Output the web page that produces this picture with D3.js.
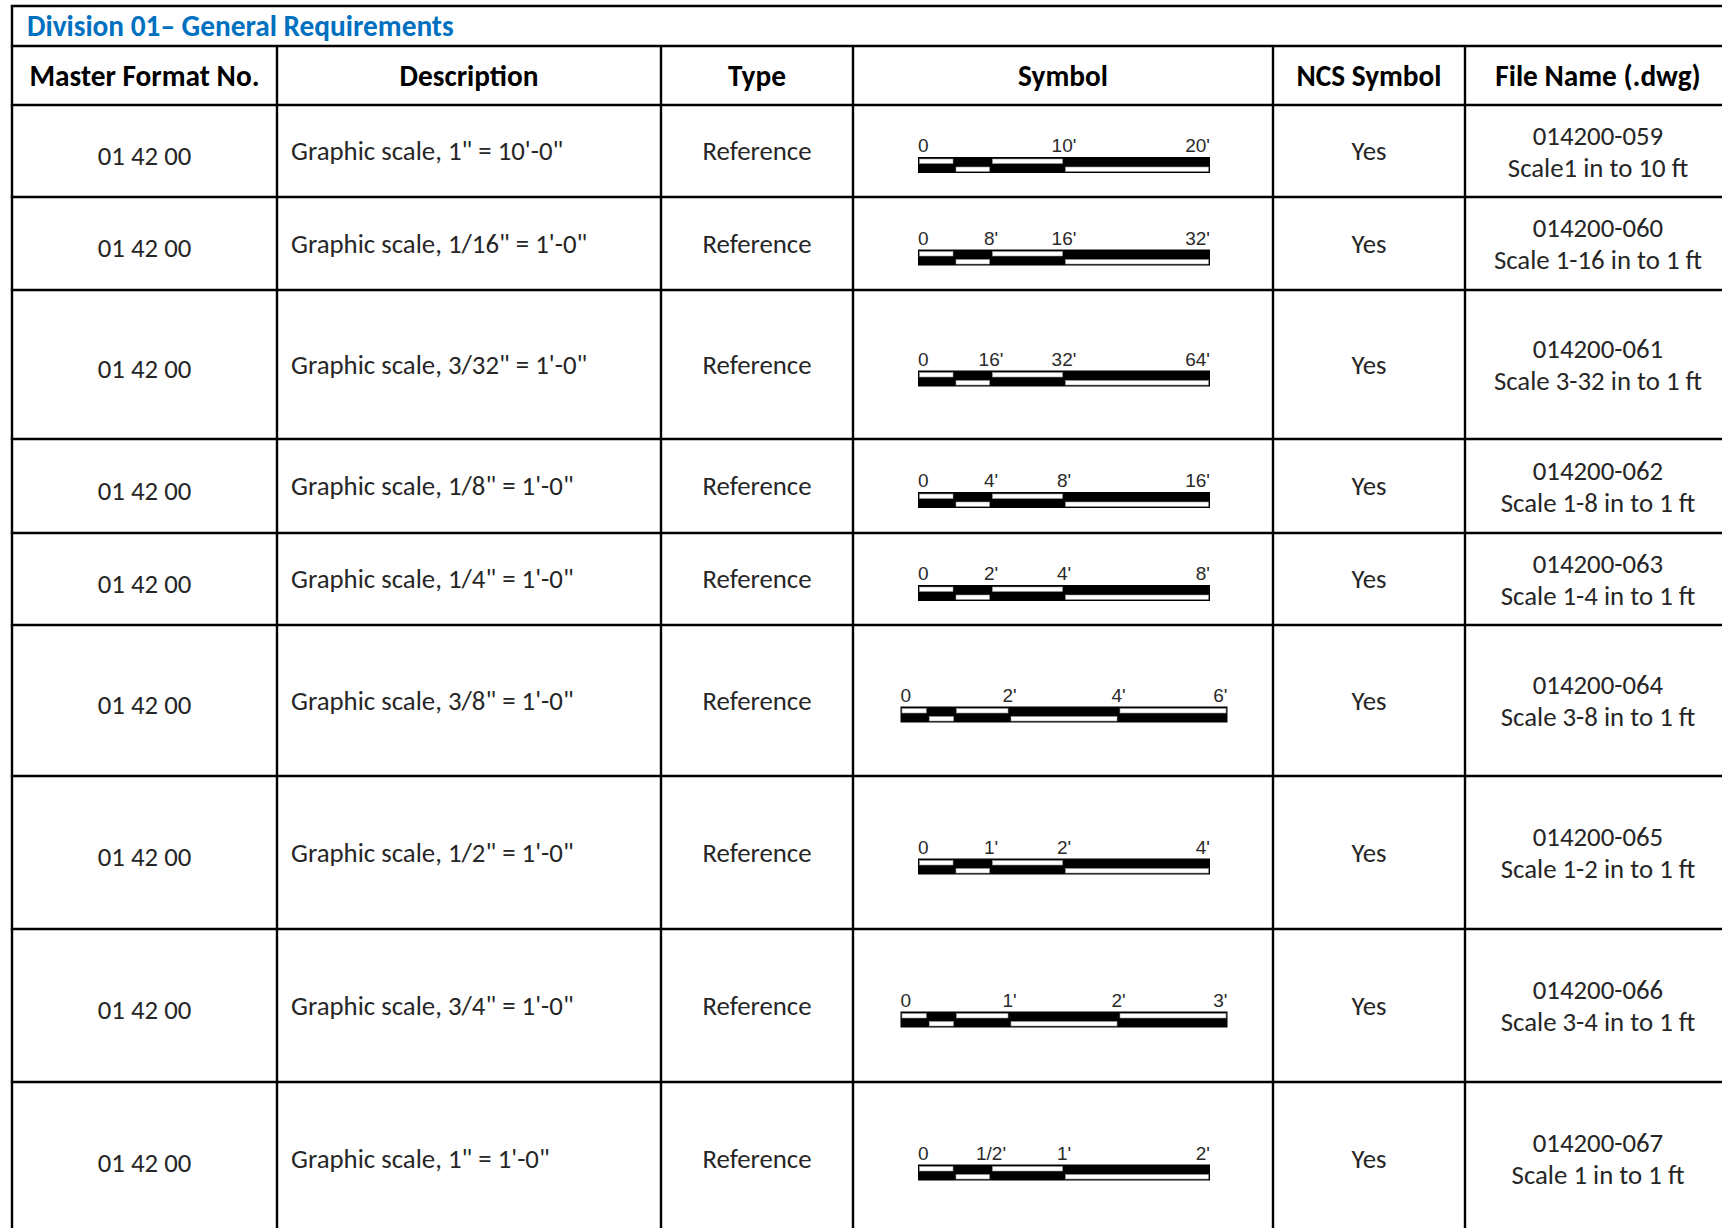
<!DOCTYPE html>
<html>
<head>
    <meta charset="utf-8">
    <title>Division 01 - General Requirements</title>
    <script type="text/javascript" src="https://d3js.org/d3.v7.min.js"></script>
    <style>
        body { margin: 0; background: #fff; }
        svg { display: block; }
        .cell { font-family: Carlito, Calibri, "Open Sans", sans-serif; font-size: 26.8px; fill: #262626; }
        .head { font-family: Carlito, Calibri, "Open Sans", sans-serif; font-size: 29.3px; font-weight: bold; fill: #000; }
        .title { font-family: Carlito, Calibri, "Open Sans", sans-serif; font-size: 29.3px; font-weight: bold; fill: #0070C0; }
        .tick { font-family: "Liberation Sans", Arial, sans-serif; font-size: 19px; fill: #2a2a2a; }
        .grid { stroke: #000; stroke-width: 2.4px; }
    </style>
</head>
<body>
<script type="text/javascript">
    // table data
    var titleText = "Division 01\u2013 General Requirements";
    var headers = ["Master Format No.", "Description", "Type", "Symbol", "NCS Symbol", "File Name (.dwg)"];
    var masterNos = ["01 42 00", "01 42 00", "01 42 00", "01 42 00", "01 42 00",
                     "01 42 00", "01 42 00", "01 42 00", "01 42 00"];
    var descriptions = [
        "Graphic scale, 1\" = 10'-0\"",
        "Graphic scale, 1/16\" = 1'-0\"",
        "Graphic scale, 3/32\" = 1'-0\"",
        "Graphic scale, 1/8\" = 1'-0\"",
        "Graphic scale, 1/4\" = 1'-0\"",
        "Graphic scale, 3/8\" = 1'-0\"",
        "Graphic scale, 1/2\" = 1'-0\"",
        "Graphic scale, 3/4\" = 1'-0\"",
        "Graphic scale, 1\" = 1'-0\""
    ];
    var types = ["Reference", "Reference", "Reference", "Reference", "Reference",
                 "Reference", "Reference", "Reference", "Reference"];
    var ncsSymbols = ["Yes", "Yes", "Yes", "Yes", "Yes", "Yes", "Yes", "Yes", "Yes"];
    var fileCodes = ["014200-059", "014200-060", "014200-061", "014200-062", "014200-063",
                     "014200-064", "014200-065", "014200-066", "014200-067"];
    var fileTitles = ["Scale1 in to 10 ft", "Scale 1-16 in to 1 ft", "Scale 3-32 in to 1 ft",
                      "Scale 1-8 in to 1 ft", "Scale 1-4 in to 1 ft", "Scale 3-8 in to 1 ft",
                      "Scale 1-2 in to 1 ft", "Scale 3-4 in to 1 ft", "Scale 1 in to 1 ft"];

    // graphic scale symbols (feet)
    var scaleMax = [20, 32, 64, 16, 8, 6, 4, 3, 2];
    var scaleBreaks = [
        [2.5, 5, 10], [4, 8, 16], [8, 16, 32], [2, 4, 8], [1, 2, 4],
        [0.5, 1, 2, 4], [0.5, 1, 2], [0.25, 0.5, 1, 2], [0.25, 0.5, 1]
    ];
    var scaleTickValues = [
        [0, 10, 20], [0, 8, 16, 32], [0, 16, 32, 64], [0, 4, 8, 16], [0, 2, 4, 8],
        [0, 2, 4, 6], [0, 1, 2, 4], [0, 1, 2, 3], [0, 0.5, 1, 2]
    ];
    var scaleTickLabels = [
        ["0", "10'", "20'"], ["0", "8'", "16'", "32'"], ["0", "16'", "32'", "64'"],
        ["0", "4'", "8'", "16'"], ["0", "2'", "4'", "8'"], ["0", "2'", "4'", "6'"],
        ["0", "1'", "2'", "4'"], ["0", "1'", "2'", "3'"], ["0", "1/2'", "1'", "2'"]
    ];

    // layout
    var width = 1722, height = 1228;
    var colLines = [12, 277, 661, 853, 1273, 1465, 1731];
    var topY = 6, titleBottom = 46, headBottom = 105;
    var rowLines = [105, 197, 290, 439, 533, 625, 776, 929, 1082, 1235];

    var svg = d3.select("body").append("svg")
            .attr("width", width)
            .attr("height", height);

    svg.append("rect").attr("width", width).attr("height", height).attr("fill", "#fff");

    function colMid(c) { return (colLines[c] + colLines[c + 1]) / 2; }

    // title + header
    svg.append("text").attr("class", "title")
            .attr("x", 27).attr("y", (topY + titleBottom) / 2).attr("dy", "0.35em")
            .text(titleText);

    svg.selectAll("text.head").data(headers).enter()
            .append("text").attr("class", "head")
            .attr("x", function (d, i) { return colMid(i); })
            .attr("y", (titleBottom + headBottom) / 2).attr("dy", "0.35em")
            .attr("text-anchor", "middle")
            .text(function (d) { return d; });

    // body rows
    var rows = svg.selectAll("g.row").data(masterNos).enter()
            .append("g").attr("class", "row")
            .attr("transform", function (d, i) {
                return "translate(0," + (rowLines[i] + rowLines[i + 1]) / 2 + ")";
            });

    rows.append("text").attr("class", "cell")
            .attr("x", colMid(0)).attr("y", 4.5).attr("dy", "0.35em")
            .attr("text-anchor", "middle")
            .text(function (d) { return d; });

    rows.append("text").attr("class", "cell")
            .attr("x", colLines[1] + 14).attr("dy", "0.35em")
            .text(function (d, i) { return descriptions[i]; });

    rows.append("text").attr("class", "cell")
            .attr("x", colMid(2)).attr("dy", "0.35em")
            .attr("text-anchor", "middle")
            .text(function (d, i) { return types[i]; });

    rows.append("text").attr("class", "cell")
            .attr("x", colMid(4)).attr("dy", "0.35em")
            .attr("text-anchor", "middle")
            .text(function (d, i) { return ncsSymbols[i]; });

    rows.append("text").attr("class", "cell")
            .attr("x", colMid(5)).attr("y", -15.5).attr("dy", "0.35em")
            .attr("text-anchor", "middle")
            .text(function (d, i) { return fileCodes[i]; });

    rows.append("text").attr("class", "cell")
            .attr("x", colMid(5)).attr("y", 16.5).attr("dy", "0.35em")
            .attr("text-anchor", "middle")
            .text(function (d, i) { return fileTitles[i]; });

    // graphic scale bars
    var barH = 16, half = 8, inset = 1.5;
    var symbolMid = 1064;

    rows.each(function (d, i) {
        var g = d3.select(this);
        var barW = scaleBreaks[i].length > 3 ? 327 : 292;
        var x = d3.scaleLinear()
                .domain([0, scaleMax[i]])
                .range([symbolMid - barW / 2, symbolMid + barW / 2]);
        var top = 6;
        var stops = [0].concat(scaleBreaks[i], [scaleMax[i]]);
        var segs = d3.pairs(stops);

        g.append("rect")
                .attr("x", x(0)).attr("y", top)
                .attr("width", x(scaleMax[i]) - x(0)).attr("height", barH)
                .attr("fill", "#000");

        g.selectAll("rect.cellw").data(segs).enter()
                .append("rect").attr("class", "cellw")
                .attr("x", function (s) { return x(s[0]) + inset; })
                .attr("y", function (s, j) { return top + (j % 2 === 0 ? 0 : half) + inset + 0.5; })
                .attr("width", function (s) { return x(s[1]) - x(s[0]) - 2 * inset; })
                .attr("height", half - 2 * inset - 0.5)
                .attr("fill", "#fff")
                .attr("stroke", "#9a9a9a")
                .attr("stroke-width", 0.6);

        var n = scaleTickValues[i].length;
        g.selectAll("text.tick").data(scaleTickValues[i]).enter()
                .append("text").attr("class", "tick")
                .attr("x", function (v) { return x(v); })
                .attr("y", top - 5)
                .attr("text-anchor", function (v, j) {
                    return j === 0 ? "start" : (j === n - 1 ? "end" : "middle");
                })
                .text(function (v, j) { return scaleTickLabels[i][j]; });
    });

    // grid lines
    var hLines = [topY, titleBottom].concat(rowLines.slice(0, -1));
    svg.selectAll("line.h").data(hLines).enter()
            .append("line").attr("class", "grid")
            .attr("x1", colLines[0] - 1.2).attr("x2", width)
            .attr("y1", function (d) { return d; }).attr("y2", function (d) { return d; });

    svg.append("line").attr("class", "grid")
            .attr("x1", colLines[0]).attr("x2", colLines[0])
            .attr("y1", topY).attr("y2", height);

    svg.selectAll("line.v").data(colLines.slice(1, -1)).enter()
            .append("line").attr("class", "grid")
            .attr("x1", function (d) { return d; }).attr("x2", function (d) { return d; })
            .attr("y1", titleBottom).attr("y2", height);
</script>
</body>
</html>
